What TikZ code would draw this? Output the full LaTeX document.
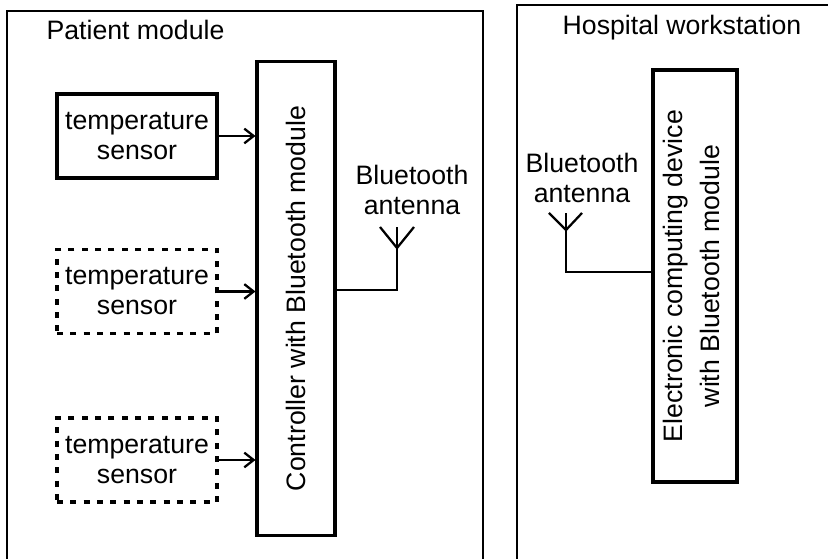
\documentclass[tikz,border=0pt]{standalone}
\usepackage{fontspec}
\setmainfont{Liberation Sans}
\usepackage{graphicx}
\usetikzlibrary{arrows.meta,positioning}

\begin{document}
\begin{tikzpicture}[
    x=0.75pt, y=0.75pt,
    font=\fontsize{20pt}{22.5pt}\selectfont,
    frame/.style={draw, line width=1.1pt},
    sensor/.style={draw, line width=2.3pt, minimum width=120pt, minimum height=63pt,
                   align=center, inner sep=0pt},
    extra/.style={sensor, dash pattern=on 4.5pt off 5.5pt},
    unit/.style={draw, line width=2.3pt, inner sep=0pt, align=center},
    line/.style={-{Straight Barb[length=7pt,width=11pt]}, line width=1.7pt},
    wire/.style={line width=1.7pt}
]
\useasboundingbox (0,0) rectangle (828,559);
\clip (0,0) rectangle (828,559);

% enclosures
\draw[frame] (7,-20) |- (483,548) -- (483,-20);
\draw[frame] (517,-20) |- (850,554);
\node (ptitle) at (135.5,529) {Patient module};
\node (htitle) at (682,531) {Hospital workstation};

% patient module
\node[sensor] (s1) at (137,423)   {temperature\\sensor};
\node[extra]  (s2) at (137,267.5) {temperature\\sensor};
\node[extra]  (s3) at (137,99)    {temperature\\sensor};
\node[unit, minimum width=58.5pt, minimum height=356pt] (ctrl) at (296,260.5)
     {\rotatebox{90}{Controller with Bluetooth module}};

\draw[line] (s1.east) -- (s1.east -| ctrl.west);
\draw[line] (s2.east) -- (s2.east -| ctrl.west);
\draw[line] (s3.east) -- (s3.east -| ctrl.west);

\node[align=center] (pant) at (412,369) {Bluetooth\\antenna};
\coordinate (ptop) at (397,332);
\coordinate (pfork) at (397,311);
\draw[wire] (ctrl.east |- 0,269) -| (ptop);
\draw[wire] (380,332) -- (pfork) -- (414,332);

% hospital workstation
\node[unit, minimum width=63pt, minimum height=309pt] (dev) at (695,283)
     {\rotatebox{90}{\begin{tabular}{@{}c@{}}Electronic computing device\\[5pt]with Bluetooth module\end{tabular}}};

\node[align=center] (hant) at (582,381) {Bluetooth\\antenna};
\coordinate (htop) at (566,346);
\coordinate (hfork) at (566,329);
\draw[wire] (dev.west |- 0,287) -| (htop);
\draw[wire] (549,346) -- (hfork) -- (582,346);
\end{tikzpicture}
\end{document}
